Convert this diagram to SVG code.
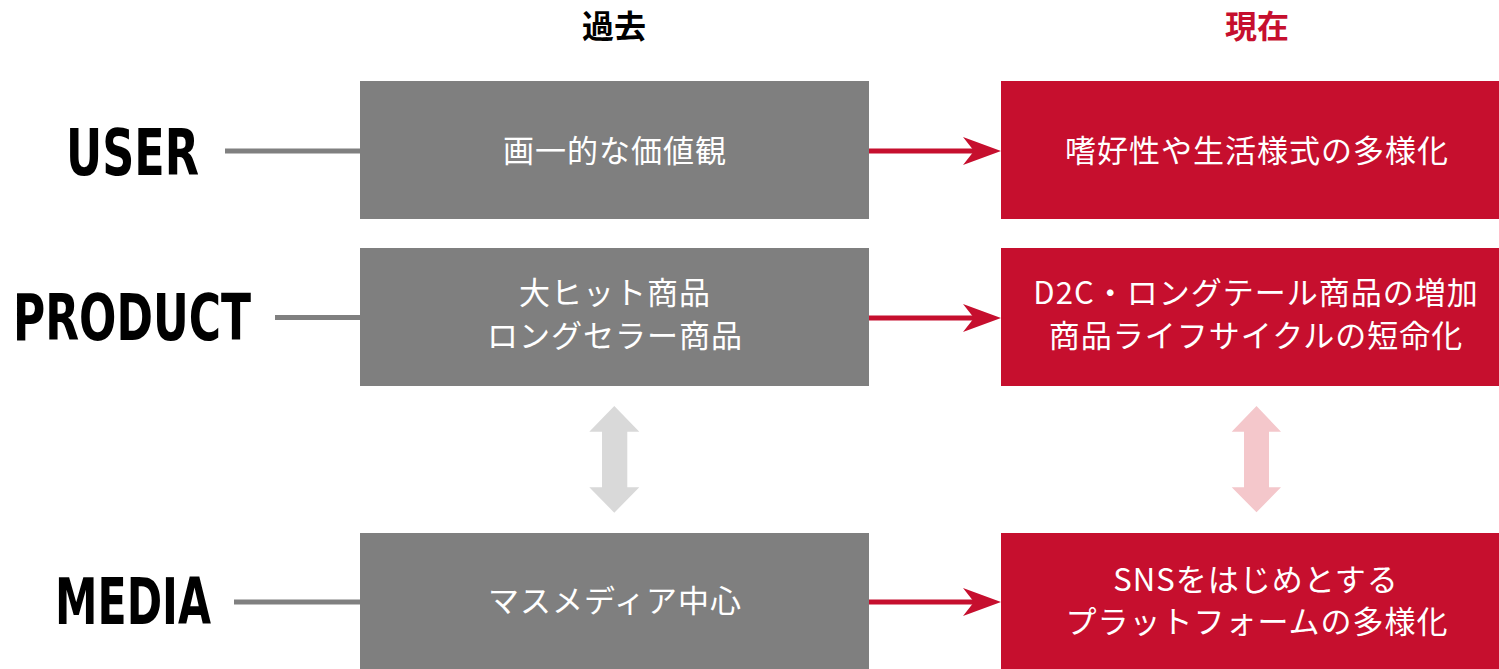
<svg xmlns="http://www.w3.org/2000/svg" width="1499" height="669" viewBox="0 0 1499 669">
<style>
.gbox{fill:#7f7f7f}
.rbox{fill:#c60f2e}
.txt{font-family:"Noto Sans CJK JP","Noto Sans",sans-serif;font-size:31px;letter-spacing:1px;fill:#ffffff;text-anchor:middle;dominant-baseline:central}
.lbl{font-family:"DejaVu Sans Condensed","DejaVu Sans",sans-serif;font-weight:bold;font-size:64px;fill:#000}
.ttl{font-family:"Noto Sans CJK JP",sans-serif;font-weight:bold;font-size:32px;text-anchor:middle;dominant-baseline:central}
.gl{stroke:#808080;stroke-width:5;fill:none}
.rl{stroke:#c60f2e;stroke-width:5;fill:none}
.ah{fill:#c60f2e}
</style>
<rect width="1499" height="669" fill="#ffffff"/>
<g id="titles">
<text class="ttl" x="614" y="24" fill="#000">過去</text>
<text class="ttl" x="1257" y="24" fill="#c60f2e">現在</text>
</g>
<g id="labels">
<text class="lbl" x="66" y="175" textLength="133" lengthAdjust="spacingAndGlyphs">USER</text>
<text class="lbl" x="13" y="340" textLength="238" lengthAdjust="spacingAndGlyphs">PRODUCT</text>
<text class="lbl" x="55" y="624" textLength="156" lengthAdjust="spacingAndGlyphs">MEDIA</text>
</g>
<g id="past-user"><rect class="gbox" x="360" y="81" width="509" height="138"/><text class="txt" x="615" y="148">画一的な価値観</text></g>
<g id="past-product"><rect class="gbox" x="360" y="248" width="509" height="138"/><text class="txt" x="615" y="290">大ヒット商品</text><text class="txt" x="615" y="333">ロングセラー商品</text></g>
<g id="past-media"><rect class="gbox" x="360" y="533" width="509" height="136"/><text class="txt" x="615" y="598">マスメディア中心</text></g>
<g id="now-user"><rect class="rbox" x="1001" y="81" width="498" height="138"/><text class="txt" x="1257" y="148">嗜好性や生活様式の多様化</text></g>
<g id="now-product"><rect class="rbox" x="1001" y="248" width="498" height="138"/><text class="txt" x="1256" y="290">D2C・ロングテール商品の増加</text><text class="txt" x="1256" y="333">商品ライフサイクルの短命化</text></g>
<g id="now-media"><rect class="rbox" x="1001" y="533" width="498" height="136"/><text class="txt" x="1256" y="577">SNSをはじめとする</text><text class="txt" x="1257" y="619">プラットフォームの多様化</text></g>
<g id="connectors">
<line class="gl" x1="225" y1="151" x2="360" y2="151"/>
<line class="gl" x1="275" y1="317.5" x2="360" y2="317.5"/>
<line class="gl" x1="234" y1="602" x2="360" y2="602"/>
<line class="rl" x1="869" y1="151" x2="975" y2="151"/>
<path class="ah" d="M1001,151 L963,137 L974,151 L963,165 Z"/>
<line class="rl" x1="869" y1="318" x2="975" y2="318"/>
<path class="ah" d="M1001,318 L963,304 L974,318 L963,332 Z"/>
<line class="rl" x1="869" y1="602" x2="975" y2="602"/>
<path class="ah" d="M1001,602 L963,588 L974,602 L963,616 Z"/>
<path fill="#d9d9d9" d="M614.3,406 L639.3,431.7 L627.3,431.7 L627.3,487.3 L639.3,487.3 L614.3,512.7 L589.3,487.3 L602,487.3 L602,431.7 L589.3,431.7 Z"/>
<path fill="#f4c7cb" d="M1256.5,406 L1281,431.7 L1269,431.7 L1269,487.3 L1281,487.3 L1256.5,512.3 L1231.7,487.3 L1244,487.3 L1244,431.7 L1231.7,431.7 Z"/>
</g>
</svg>
